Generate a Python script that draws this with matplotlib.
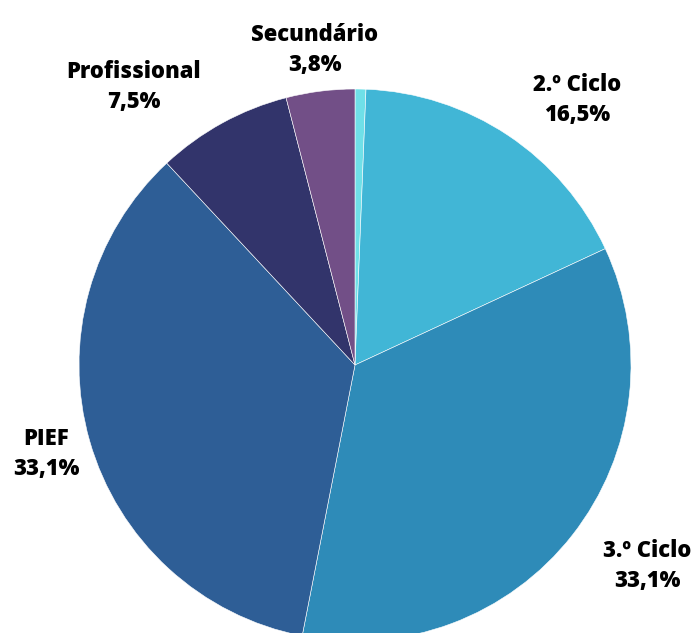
import matplotlib
matplotlib.use("Agg")
import matplotlib.pyplot as plt

categories = ["Outro", "2.º Ciclo", "3.º Ciclo", "PIEF", "Profissional", "Secundário"]
values = [0.6, 16.5, 33.1, 33.1, 7.5, 3.8]
labels_pct = ["", "16,5%", "33,1%", "33,1%", "7,5%", "3,8%"]
colors = ["#6fe0e8", "#41b6d6", "#2e8bb8", "#2e5e96", "#32346b", "#724f87"]

# label positions (data coords, pie radius = 1)
label_pos = [None, (0.804, 0.960), (1.058, -0.728), (-1.120, -0.322),
             (-0.801, 1.007), (-0.145, 1.142)]

W, H = 698, 633
fig = plt.figure(figsize=(W / 100, H / 100), dpi=100)
cx, cy, r = 355, 365, 276
ax = fig.add_axes([(cx - r) / W, (H - cy - r) / H, 2 * r / W, 2 * r / H])
ax.pie(values, colors=colors, startangle=90, counterclock=False, radius=1,
       wedgeprops=dict(edgecolor="white", linewidth=0.4))
ax.set_xlim(-1, 1)
ax.set_ylim(-1, 1)
ax.set_aspect("equal")
ax.axis("off")

for cat, pct, pos in zip(categories, labels_pct, label_pos):
    if pos is None:
        continue
    ax.text(pos[0], pos[1], f"{cat}\n{pct}", ha="center", va="center",
            fontsize=15.8, fontweight=800, family=["Open Sans", "DejaVu Sans"],
            linespacing=1.32, color="black", clip_on=False)

fig.savefig("out.png", dpi=100)
